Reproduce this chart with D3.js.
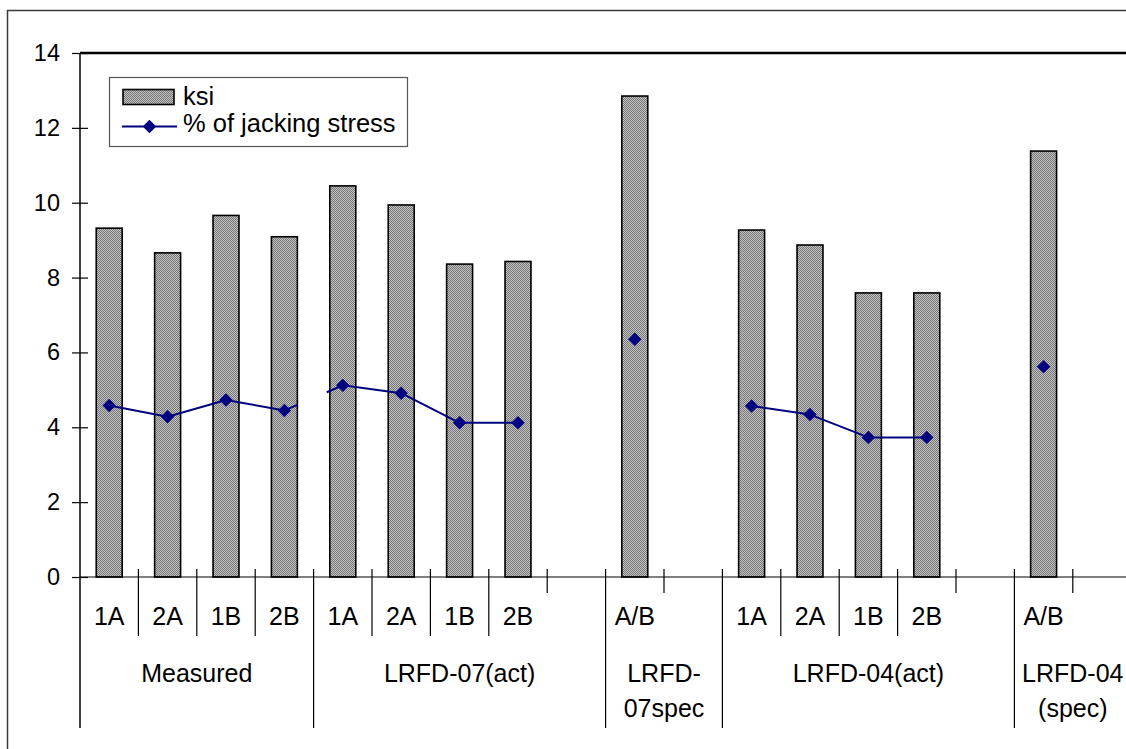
<!DOCTYPE html>
<html>
<head>
<meta charset="utf-8">
<script src="https://cdn.jsdelivr.net/npm/d3@7"></script>
<style>
  html, body { margin: 0; padding: 0; background: #fff; }
  svg { display: block; font-family: "Liberation Sans", Arial, sans-serif; }
</style>
</head>
<body>
<svg id="chart" width="1126" height="749"></svg>
<script>
// Category slots (blank slots separate the groups visually)
const categories = ["1A","2A","1B","2B","1A","2A","1B","2B","","A/B","","1A","2A","1B","2B","","A/B",""];
const groupIndex = [0,0,0,0,1,1,1,1,1,2,2,3,3,3,3,3,4,4];
const groupLabels = [["Measured"],["LRFD-07(act)"],["LRFD-","07spec"],["LRFD-04(act)"],["LRFD-04","(spec)"]];

// Series values
const ksi = [9.32,8.66,9.66,9.09,10.45,9.94,8.36,8.43,null,12.85,null,9.27,8.87,7.59,7.59,null,11.38,null];
const jackingPct = [4.58,4.28,4.73,4.45,5.12,4.91,4.12,4.12,null,6.35,null,4.57,4.34,3.73,3.73,null,5.62,null];

const yTicks = [0,2,4,6,8,10,12,14];
const seriesNames = ["ksi","% of jacking stress"];

(function draw() {
  const svg = d3.select("#chart");
  const plotLeft = 80, plotTop = 53, plotBottom = 577, slotW = 58.4;
  const plotRight = plotLeft + categories.length * slotW;

  // checkered bar fill
  const defs = svg.append("defs");
  const pat = defs.append("pattern").attr("id","dots")
    .attr("patternUnits","userSpaceOnUse").attr("width",2).attr("height",2);
  pat.append("rect").attr("width",2).attr("height",2).attr("fill","#c4c4c4");
  pat.append("rect").attr("width",1).attr("height",1).attr("fill","#757575");
  pat.append("rect").attr("x",1).attr("y",1).attr("width",1).attr("height",1).attr("fill","#757575");

  // outer chart frame
  svg.append("rect").attr("x",7.5).attr("y",10.5).attr("width",1200).attr("height",900)
    .attr("fill","none").attr("stroke","#3a3a3a").attr("stroke-width",1.5);

  const x = d3.scaleBand().domain(d3.range(categories.length)).range([plotLeft, plotRight]);
  const y = d3.scaleLinear().domain([0,14]).range([plotBottom, plotTop]);
  const barW = x.bandwidth() / 2.25;
  const cx = i => x(i) + x.bandwidth() / 2;

  // plot area top border
  svg.append("line").attr("x1",plotLeft).attr("x2",plotRight).attr("y1",plotTop).attr("y2",plotTop)
    .attr("stroke","#000").attr("stroke-width",2.5);

  // Y axis
  const yAxis = svg.append("g").attr("transform",`translate(${plotLeft},0)`)
    .call(d3.axisLeft(y).tickValues(yTicks).tickSize(8).tickPadding(12).tickFormat(d3.format("d")));
  yAxis.select(".domain").remove();
  yAxis.selectAll(".tick line").attr("x1",-8).attr("x2",8).attr("stroke","#000").attr("stroke-width",1.2);
  yAxis.selectAll(".tick text").attr("font-size",23.5).attr("fill","#000")
    .attr("font-family","Liberation Sans, Arial, sans-serif");

  // bars
  svg.append("g").selectAll("rect").data(ksi.map((v,i)=>({v,i})).filter(d=>d.v!=null))
    .join("rect")
    .attr("x", d => cx(d.i) - barW/2)
    .attr("y", d => y(d.v))
    .attr("width", barW)
    .attr("height", d => y(0) - y(d.v))
    .attr("fill","url(#dots)")
    .attr("stroke","#000").attr("stroke-width",1.6);

  // category axis baseline and left axis line
  svg.append("line").attr("x1",plotLeft).attr("x2",plotRight).attr("y1",plotBottom).attr("y2",plotBottom)
    .attr("stroke","#000").attr("stroke-width",1.2);
  svg.append("line").attr("x1",plotLeft).attr("x2",plotLeft).attr("y1",plotTop).attr("y2",728)
    .attr("stroke","#000").attr("stroke-width",1.5);

  // category dividers
  const axisG = svg.append("g");
  for (let i = 1; i <= categories.length; i++) {
    const xp = plotLeft + i * slotW;
    let y2;
    if (i === categories.length || groupIndex[i] !== groupIndex[i-1]) y2 = 728;
    else if (categories[i] === "" || categories[i-1] === "") y2 = 593;
    else y2 = 636;
    axisG.append("line").attr("x1",xp).attr("x2",xp).attr("y1",569).attr("y2",y2)
      .attr("stroke","#000").attr("stroke-width",1.2);
  }
  // category labels
  axisG.selectAll("text.cat").data(categories.map((c,i)=>({c,i})).filter(d=>d.c!==""))
    .join("text").attr("class","cat")
    .attr("x", d => cx(d.i))
    .attr("y", 625)
    .attr("text-anchor","middle").attr("font-size",25).attr("fill","#000")
    .text(d => d.c);
  // group labels
  groupLabels.forEach((lines, g) => {
    const idx = groupIndex.map((v,i)=>v===g?i:-1).filter(i=>i>=0);
    const gx = (x(idx[0]) + x(idx[idx.length-1]) + x.bandwidth()) / 2;
    lines.forEach((t, k) => {
      axisG.append("text").attr("x",gx).attr("y",682 + k*35)
        .attr("text-anchor","middle").attr("font-size",25).attr("fill","#000").text(t);
    });
  });

  // jacking-stress line: solid within a group, broken across a group boundary
  const navy = "#000080";
  const pts = jackingPct.map((v,i)=>({v,i}));
  const lineG = svg.append("g");
  for (let i = 0; i < pts.length - 1; i++) {
    const a = pts[i], b = pts[i+1];
    if (a.v == null || b.v == null) continue;
    const x1 = cx(a.i), y1 = y(a.v), x2 = cx(b.i), y2 = y(b.v);
    const seg = lineG.append("line").attr("x1",x1).attr("y1",y1).attr("x2",x2).attr("y2",y2)
      .attr("stroke",navy).attr("stroke-width",2);
    if (groupIndex[a.i] !== groupIndex[b.i]) {
      const L = Math.hypot(x2-x1, y2-y1);
      seg.attr("stroke-dasharray", `${0.225*L} ${0.5*L} ${0.275*L}`);
    }
  }
  const diamond = d3.symbol().type(d3.symbolDiamond2).size(115);
  lineG.selectAll("path.mk").data(pts.filter(d=>d.v!=null)).join("path").attr("class","mk")
    .attr("d", diamond)
    .attr("transform", d => `translate(${cx(d.i)},${y(d.v)})`)
    .attr("fill",navy);

  // legend
  const lg = svg.append("g");
  lg.append("rect").attr("x",109.5).attr("y",77.5).attr("width",298).attr("height",69)
    .attr("fill","#fff").attr("stroke","#555").attr("stroke-width",1.2);
  lg.append("rect").attr("x",123).attr("y",89.5).attr("width",51).attr("height",15)
    .attr("fill","url(#dots)").attr("stroke","#000").attr("stroke-width",1.6);
  lg.append("text").attr("x",183).attr("y",105).attr("font-size",25.5).attr("fill","#000").text(seriesNames[0]);
  lg.append("line").attr("x1",122).attr("x2",177).attr("y1",126.5).attr("y2",126.5)
    .attr("stroke",navy).attr("stroke-width",2);
  lg.append("path").attr("d",diamond).attr("transform","translate(149.5,126.5)").attr("fill",navy);
  lg.append("text").attr("x",183).attr("y",132).attr("font-size",25.5).attr("fill","#000").text(seriesNames[1]);
})();
</script>
</body>
</html>
